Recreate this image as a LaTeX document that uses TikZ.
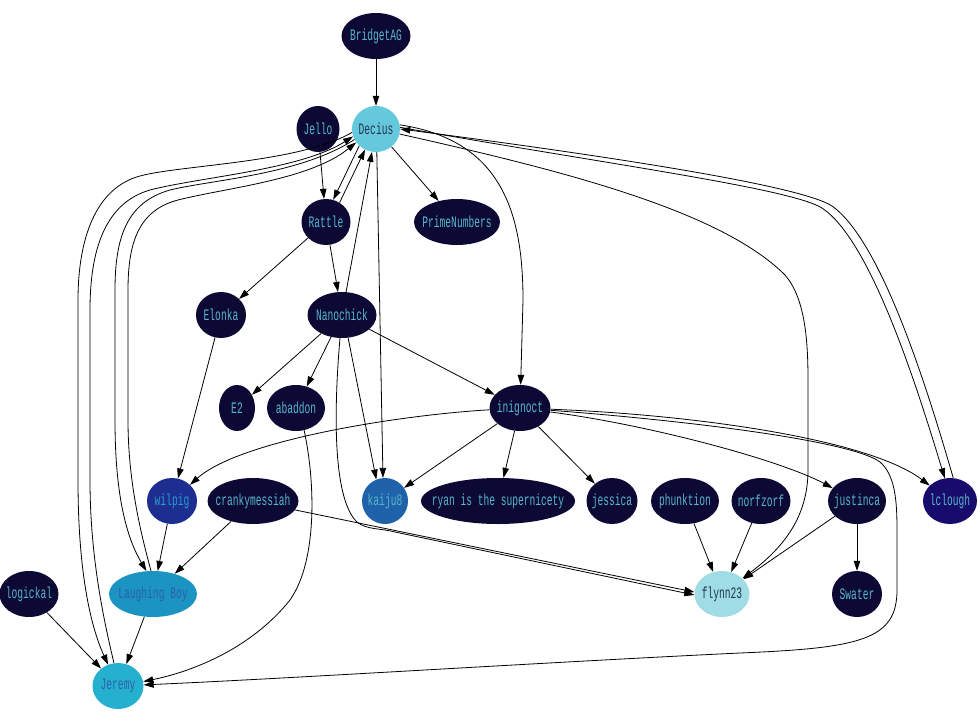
\documentclass[tikz,border=0pt]{standalone}
\usepackage{fontspec}
\newfontfamily\nodefont[FakeStretch=0.6]{Liberation Mono}
\usetikzlibrary{shapes.geometric,arrows.meta}
\definecolor{dk}{HTML}{0C0A35}
\definecolor{txl}{HTML}{58B6CA}
\definecolor{tdark}{HTML}{1C3550}
\definecolor{twil}{HTML}{2A9AD0}
\definecolor{tlb}{HTML}{2C5FA8}
\definecolor{cDecius}{HTML}{66C8DC}
\definecolor{cFlynn}{HTML}{A0DCE6}
\definecolor{cLB}{HTML}{1B94C2}
\definecolor{cJeremy}{HTML}{26B0D0}
\definecolor{cKaiju}{HTML}{1F62AA}
\definecolor{cWilpig}{HTML}{1C2F90}
\definecolor{cLclough}{HTML}{170C6C}
\newcommand\lbl[1]{\makebox[0pt]{#1}}
\begin{document}
\begin{tikzpicture}[x=1pt,y=-1pt,
  nd/.style={ellipse, fill=dk, inner sep=0pt, text=txl, minimum height=46pt,
    font=\nodefont\fontsize{16}{16}\selectfont},
  arr/.style={-{Triangle[length=10pt,width=6.5pt]}, line width=0.8pt, black}]
\path[use as bounding box] (0,0) rectangle (980,720);
% nodes
\node[nd, minimum width=69pt] (BridgetAG) at (376,36) {\lbl{BridgetAG}};
\node[nd, minimum width=43pt] (Jello) at (318,129) {\lbl{Jello}};
\node[nd, minimum width=48pt, fill=cDecius, text=tdark] (Decius) at (376,129) {\lbl{Decius}};
\node[nd, minimum width=49pt] (Rattle) at (326,222) {\lbl{Rattle}};
\node[nd, minimum width=86pt] (PrimeNumbers) at (457,222) {\lbl{PrimeNumbers}};
\node[nd, minimum width=50pt] (Elonka) at (221,315) {\lbl{Elonka}};
\node[nd, minimum width=69pt] (Nanochick) at (342,315) {\lbl{Nanochick}};
\node[nd, minimum width=36pt] (E2) at (237,408) {\lbl{E2}};
\node[nd, minimum width=58pt] (abaddon) at (296,408) {\lbl{abaddon}};
\node[nd, minimum width=61pt] (inignoct) at (520,408) {\lbl{inignoct}};
\node[nd, minimum width=50pt, fill=cWilpig, text=twil] (wilpig) at (172,501) {\lbl{wilpig}};
\node[nd, minimum width=91pt] (cranky) at (253,501) {\lbl{crankymessiah}};
\node[nd, minimum width=46pt, fill=cKaiju] (kaiju8) at (385,501) {\lbl{kaiju8}};
\node[nd, minimum width=154pt] (ryan) at (498,501) {\lbl{ryan is the supernicety}};
\node[nd, minimum width=51pt] (jessica) at (612,501) {\lbl{jessica}};
\node[nd, minimum width=68pt] (phunktion) at (685,501) {\lbl{phunktion}};
\node[nd, minimum width=59pt] (norfzorf) at (761,501) {\lbl{norfzorf}};
\node[nd, minimum width=58pt] (justinca) at (857,501) {\lbl{justinca}};
\node[nd, minimum width=54pt, fill=cLclough] (lclough) at (950,501) {\lbl{lclough}};
\node[nd, minimum width=59pt] (logickal) at (29,594) {\lbl{logickal}};
\node[nd, minimum width=88pt, fill=cLB, text=tlb] (LB) at (153,594) {\lbl{Laughing Boy}};
\node[nd, minimum width=55pt, fill=cFlynn, text=tdark] (flynn23) at (722,594) {\lbl{flynn23}};
\node[nd, minimum width=50pt] (Swater) at (857,594) {\lbl{Swater}};
\node[nd, minimum width=51pt, fill=cJeremy, text=tlb] (Jeremy) at (118,686) {\lbl{Jeremy}};
% straight edges
\draw[arr] (BridgetAG) -- (Decius);
\draw[arr] (Jello) -- (Rattle);
\draw[arr] (Decius.225) -- (Rattle.72);
\draw[arr] (Rattle.55) -- (Decius.242);
\draw[arr] (Nanochick.80) -- (Decius.260);
\draw[arr] (Decius) -- (PrimeNumbers);
\draw[arr] (Decius.272) -- (kaiju8.95);
\draw[arr] (Nanochick.285) -- (kaiju8.112);
\draw[arr] (Rattle) -- (Elonka);
\draw[arr] (Rattle) -- (Nanochick);
\draw[arr] (Nanochick) -- (E2);
\draw[arr] (Nanochick) -- (abaddon);
\draw[arr] (Nanochick) -- (inignoct);
\draw[arr] (Elonka) -- (wilpig);
\draw[arr] (inignoct) -- (kaiju8);
\draw[arr] (inignoct) -- (ryan);
\draw[arr] (inignoct) -- (jessica);
\draw[arr] (wilpig) -- (LB);
\draw[arr] (cranky) -- (LB);
\draw[arr] (phunktion) -- (flynn23);
\draw[arr] (norfzorf) -- (flynn23);
\draw[arr] (justinca) -- (flynn23);
\draw[arr] (justinca) -- (Swater);
\draw[arr] (logickal) -- (Jeremy);
\draw[arr] (LB) -- (Jeremy);
% curved edges
\draw[arr] (inignoct) .. controls (650,425) and (780,460) .. (justinca);
\draw[arr] (inignoct) .. controls (700,415) and (870,440) .. (lclough);
\draw[arr] (inignoct) .. controls (680,420) and (850,440) .. (880,462)
  .. controls (895,475) and (897,500) .. (897,530) -- (897,590)
  .. controls (897,640) and (860,648) .. (740,653)
  .. controls (550,662) and (300,678) .. (Jeremy);
\draw[arr] (inignoct) .. controls (400,415) and (240,440) .. (wilpig);
\draw[arr] (Decius.10) .. controls (500,140) and (523,210) .. (523,300) -- (inignoct);
\draw[arr] (Decius.-12) .. controls (560,170) and (720,210) .. (785,275)
  .. controls (805,298) and (808,340) .. (808,380) -- (808,470)
  .. controls (808,520) and (780,550) .. (flynn23);
\draw[arr] (Decius.4) .. controls (600,163) and (790,188) .. (822,208)
  .. controls (870,240) and (915,380) .. (lclough.103);
\draw[arr] (lclough.82) .. controls (925,380) and (880,240) .. (832,206)
  .. controls (800,185) and (600,155) .. (Decius.0);
\draw[arr] (Decius.188) .. controls (300,163) and (180,165) .. (140,176)
  .. controls (95,188) and (78,240) .. (78,300) -- (78,480)
  .. controls (78,570) and (90,625) .. (Jeremy.115);
\draw[arr] (Jeremy.100) .. controls (105,625) and (90,560) .. (90,480) -- (90,310)
  .. controls (90,250) and (105,203) .. (150,190)
  .. controls (200,177) and (300,170) .. (Decius.198);
\draw[arr] (Decius.206) .. controls (300,175) and (210,180) .. (170,190)
  .. controls (128,202) and (115,235) .. (115,290) -- (115,420)
  .. controls (115,500) and (128,540) .. (LB.106);
\draw[arr] (LB.95) .. controls (140,530) and (128,480) .. (128,420) -- (128,290)
  .. controls (128,240) and (140,210) .. (178,200)
  .. controls (225,188) and (310,180) .. (Decius.214);
\draw[arr] (abaddon.290) .. controls (315,480) and (318,560) .. (290,600)
  .. controls (250,650) and (190,672) .. (Jeremy.10);
\draw[arr] (Nanochick.265) .. controls (333,420) and (334,500) .. (357,522)
  .. controls (367,530) and (380,528) .. (395,532) -- (flynn23.182);
\draw[arr] (cranky.-12) -- (flynn23.176);
\end{tikzpicture}
\end{document}
